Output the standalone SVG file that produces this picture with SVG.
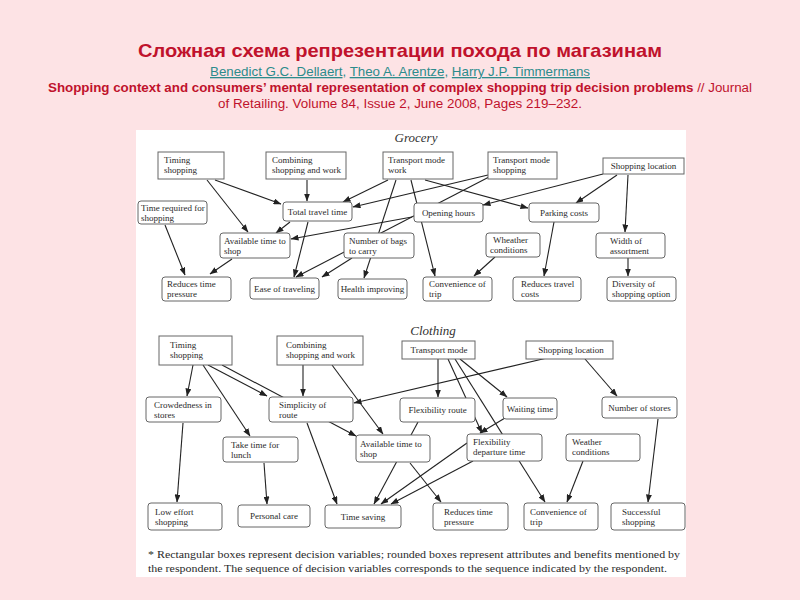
<svg xmlns="http://www.w3.org/2000/svg" width="800" height="600" viewBox="0 0 800 600">
<style>
.hdr{font-family:"Liberation Sans",Arial,sans-serif;fill:#c0122c}
.auth{font-family:"Liberation Sans",Arial,sans-serif;font-size:13px;fill:#2c8c8c}
.u{text-decoration:underline}
.sec{font-family:"Liberation Serif","Times New Roman",serif;font-style:italic;font-size:13px;fill:#333}
.node rect{fill:#fff;stroke:#666;stroke-width:1}
.node text{font-family:"Liberation Serif","Times New Roman",serif;font-size:9px;fill:#2a2a2a}
.node text.c{text-anchor:middle}
#connectors path{fill:none;stroke:#222;stroke-width:1.1;marker-end:url(#ah)}
.foot{font-family:"Liberation Serif","Times New Roman",serif;font-size:11px;fill:#2a2a2a}
</style>
<defs>
<marker id="ah" markerUnits="userSpaceOnUse" markerWidth="8" markerHeight="6" refX="7.5" refY="3" orient="auto">
<path d="M0,0 L8,3 L0,6 z" fill="#222"/>
</marker>
</defs>
<rect x="0" y="0" width="800" height="600" fill="#fde3e5"/>
<text class="hdr" x="400" y="57" text-anchor="middle" font-size="19" font-weight="bold" textLength="524" lengthAdjust="spacingAndGlyphs">Сложная схема репрезентации похода по магазинам</text>
<text class="auth" x="210" y="76" textLength="380" lengthAdjust="spacingAndGlyphs"><tspan class="u">Benedict G.C. Dellaert</tspan>, <tspan class="u">Theo A. Arentze</tspan>, <tspan class="u">Harry J.P. Timmermans</tspan></text>
<text class="hdr" x="400" y="92" text-anchor="middle" font-size="12.5" textLength="704" lengthAdjust="spacingAndGlyphs"><tspan font-weight="bold">Shopping context and consumers’ mental representation of complex shopping trip decision problems</tspan> // Journal</text>
<text class="hdr" x="400" y="108" text-anchor="middle" font-size="12.5" textLength="364" lengthAdjust="spacingAndGlyphs">of Retailing. Volume 84, Issue 2, June 2008, Pages 219–232.</text>
<rect x="136" y="130" width="550" height="447" fill="#fff"/>
<text class="sec" x="416" y="142" text-anchor="middle">Grocery</text>
<text class="sec" x="433" y="335" text-anchor="middle">Clothing</text>
<g id="connectors">
<path d="M215,180 L281,204"/>
<path d="M207,180 L248,232"/>
<path d="M307,180 L307,201"/>
<path d="M388,180 L343,202"/>
<path d="M488,175 L353,207"/>
<path d="M489,177 L296,277"/>
<path d="M396,180 L364,278"/>
<path d="M411,180 L435,276"/>
<path d="M425,180 L528,208"/>
<path d="M603,174 L483,205"/>
<path d="M617,175 L576,203"/>
<path d="M628,175 L625,232"/>
<path d="M412,217 L291,239"/>
<path d="M290,222 L276,233"/>
<path d="M308,222 L294,277"/>
<path d="M352,258 L322,277"/>
<path d="M232,259 L210,274"/>
<path d="M165,225 L185,275"/>
<path d="M554,222 L544,276"/>
<path d="M495,257 L474,276"/>
<path d="M628,258 L628,276"/>
<path d="M193,365 L187,396"/>
<path d="M208,365 L267,396"/>
<path d="M222,365 L356,436"/>
<path d="M203,365 L250,436"/>
<path d="M303,365 L303,396"/>
<path d="M332,365 L383,434"/>
<path d="M547,358 L354,403"/>
<path d="M585,359 L617,396"/>
<path d="M438,359 L438,397"/>
<path d="M460,359 L507,397"/>
<path d="M448,359 L482,433"/>
<path d="M455,359 L545,502"/>
<path d="M505,418 L480,433"/>
<path d="M467,443 L381,504"/>
<path d="M473,461 L391,504"/>
<path d="M418,422 L374,504"/>
<path d="M410,463 L441,502"/>
<path d="M307,423 L337,504"/>
<path d="M183,423 L177,502"/>
<path d="M264,463 L267,504"/>
<path d="M583,461 L567,502"/>
<path d="M658,419 L648,502"/>
</g>
<g id="g-timing" class="node"><rect x="158" y="152" width="66" height="27"/><text x="164" y="163">Timing</text><text x="164" y="173">shopping</text></g>
<g id="g-combining" class="node"><rect x="266" y="152" width="80" height="27"/><text x="272" y="163">Combining</text><text x="272" y="173">shopping and work</text></g>
<g id="g-tmwork" class="node"><rect x="383" y="152" width="70" height="27"/><text x="388" y="163">Transport mode</text><text x="388" y="173">work</text></g>
<g id="g-tmshop" class="node"><rect x="488" y="152" width="69" height="27"/><text x="493" y="163">Transport mode</text><text x="493" y="173">shopping</text></g>
<g id="g-location" class="node"><rect x="603" y="158" width="81" height="16"/><text class="c" x="643.5" y="169">Shopping location</text></g>
<g id="g-timereq" class="node"><rect x="138" y="201" width="69" height="23" rx="3"/><text x="141" y="211">Time required for</text><text x="141" y="221">shopping</text></g>
<g id="g-total" class="node"><rect x="283" y="202" width="69" height="19" rx="3"/><text class="c" x="317.5" y="214.5">Total travel time</text></g>
<g id="g-opening" class="node"><rect x="414" y="203" width="69" height="19" rx="3"/><text class="c" x="448.5" y="215.5">Opening hours</text></g>
<g id="g-parking" class="node"><rect x="529" y="203" width="70" height="19" rx="3"/><text class="c" x="564" y="215.5">Parking costs</text></g>
<g id="g-avail" class="node"><rect x="220" y="233" width="70" height="25" rx="3"/><text x="224" y="243.5">Available time to</text><text x="224" y="253.5">shop</text></g>
<g id="g-bags" class="node"><rect x="344" y="233" width="70" height="25" rx="3"/><text x="349" y="243.5">Number of bags</text><text x="349" y="253.5">to carry</text></g>
<g id="g-wheather" class="node"><rect x="486" y="233" width="54" height="24" rx="3"/><text x="493" y="243">Wheather</text><text x="490" y="253">conditions</text></g>
<g id="g-width" class="node"><rect x="596" y="233" width="69" height="25" rx="3"/><text x="610" y="243.5">Width of</text><text x="610" y="253.5">assortment</text></g>
<g id="g-reducestime" class="node"><rect x="162" y="277" width="69" height="24" rx="3"/><text x="167" y="287">Reduces time</text><text x="167" y="297">pressure</text></g>
<g id="g-ease" class="node"><rect x="250" y="278" width="69" height="21" rx="3"/><text class="c" x="284.5" y="291.5">Ease of traveling</text></g>
<g id="g-health" class="node"><rect x="338" y="279" width="69" height="20" rx="3"/><text class="c" x="372.5" y="292">Health improving</text></g>
<g id="g-convenience" class="node"><rect x="423" y="277" width="69" height="24" rx="3"/><text x="429" y="287">Convenience of</text><text x="429" y="297">trip</text></g>
<g id="g-reducescosts" class="node"><rect x="513" y="277" width="68" height="24" rx="3"/><text x="521" y="287">Reduces travel</text><text x="521" y="297">costs</text></g>
<g id="g-diversity" class="node"><rect x="607" y="277" width="69" height="24" rx="3"/><text x="612" y="287">Diversity of</text><text x="612" y="297">shopping option</text></g>
<g id="c-timing" class="node"><rect x="159" y="336" width="73" height="29"/><text x="170" y="347.5">Timing</text><text x="170" y="357.5">shopping</text></g>
<g id="c-combining" class="node"><rect x="277" y="336" width="86" height="29"/><text x="286" y="347.5">Combining</text><text x="286" y="357.5">shopping and work</text></g>
<g id="c-transport" class="node"><rect x="402" y="341" width="73" height="18"/><text class="c" x="439" y="353">Transport mode</text></g>
<g id="c-location" class="node"><rect x="526" y="341" width="87" height="18"/><text class="c" x="571" y="353">Shopping location</text></g>
<g id="c-crowded" class="node"><rect x="146" y="397" width="75" height="25" rx="3"/><text x="154" y="407.5">Crowdedness in</text><text x="154" y="417.5">stores</text></g>
<g id="c-simplicity" class="node"><rect x="269" y="397" width="84" height="25" rx="3"/><text x="279" y="407.5">Simplicity of</text><text x="279" y="417.5">route</text></g>
<g id="c-flexroute" class="node"><rect x="400" y="398" width="75" height="24" rx="3"/><text class="c" x="437.5" y="413">Flexibility route</text></g>
<g id="c-waiting" class="node"><rect x="503" y="398" width="54" height="21" rx="3"/><text class="c" x="530" y="411.5">Waiting time</text></g>
<g id="c-stores" class="node"><rect x="602" y="397" width="75" height="21" rx="3"/><text class="c" x="639.5" y="410.5">Number of stores</text></g>
<g id="c-lunch" class="node"><rect x="223" y="437" width="75" height="25" rx="3"/><text x="231" y="447.5">Take time for</text><text x="231" y="457.5">lunch</text></g>
<g id="c-avail" class="node"><rect x="356" y="435" width="74" height="27" rx="3"/><text x="360" y="446.5">Available time to</text><text x="360" y="456.5">shop</text></g>
<g id="c-flexdep" class="node"><rect x="467" y="434" width="75" height="27" rx="3"/><text x="473" y="445">Flexibility</text><text x="473" y="455">departure time</text></g>
<g id="c-weather" class="node"><rect x="566" y="434" width="74" height="27" rx="3"/><text x="572" y="445">Weather</text><text x="572" y="455">conditions</text></g>
<g id="c-loweffort" class="node"><rect x="148" y="503" width="74" height="27" rx="3"/><text x="155" y="514.5">Low effort</text><text x="155" y="524.5">shopping</text></g>
<g id="c-personal" class="node"><rect x="238" y="505" width="72" height="22" rx="3"/><text class="c" x="274" y="519">Personal care</text></g>
<g id="c-timesaving" class="node"><rect x="325" y="505" width="76" height="23" rx="3"/><text class="c" x="363" y="519.5">Time saving</text></g>
<g id="c-reducestime" class="node"><rect x="433" y="503" width="75" height="27" rx="3"/><text x="444" y="514.5">Reduces time</text><text x="444" y="524.5">pressure</text></g>
<g id="c-convenience" class="node"><rect x="524" y="503" width="74" height="27" rx="3"/><text x="530" y="514.5">Convenience of</text><text x="530" y="524.5">trip</text></g>
<g id="c-successful" class="node"><rect x="611" y="503" width="74" height="27" rx="3"/><text x="622" y="514.5">Successful</text><text x="622" y="524.5">shopping</text></g>
<text class="foot" x="148" y="558" textLength="532" lengthAdjust="spacingAndGlyphs">* Rectangular boxes represent decision variables; rounded boxes represent attributes and benefits mentioned by</text>
<text class="foot" x="148" y="572" textLength="519" lengthAdjust="spacingAndGlyphs">the respondent. The sequence of decision variables corresponds to the sequence indicated by the respondent.</text>
</svg>
